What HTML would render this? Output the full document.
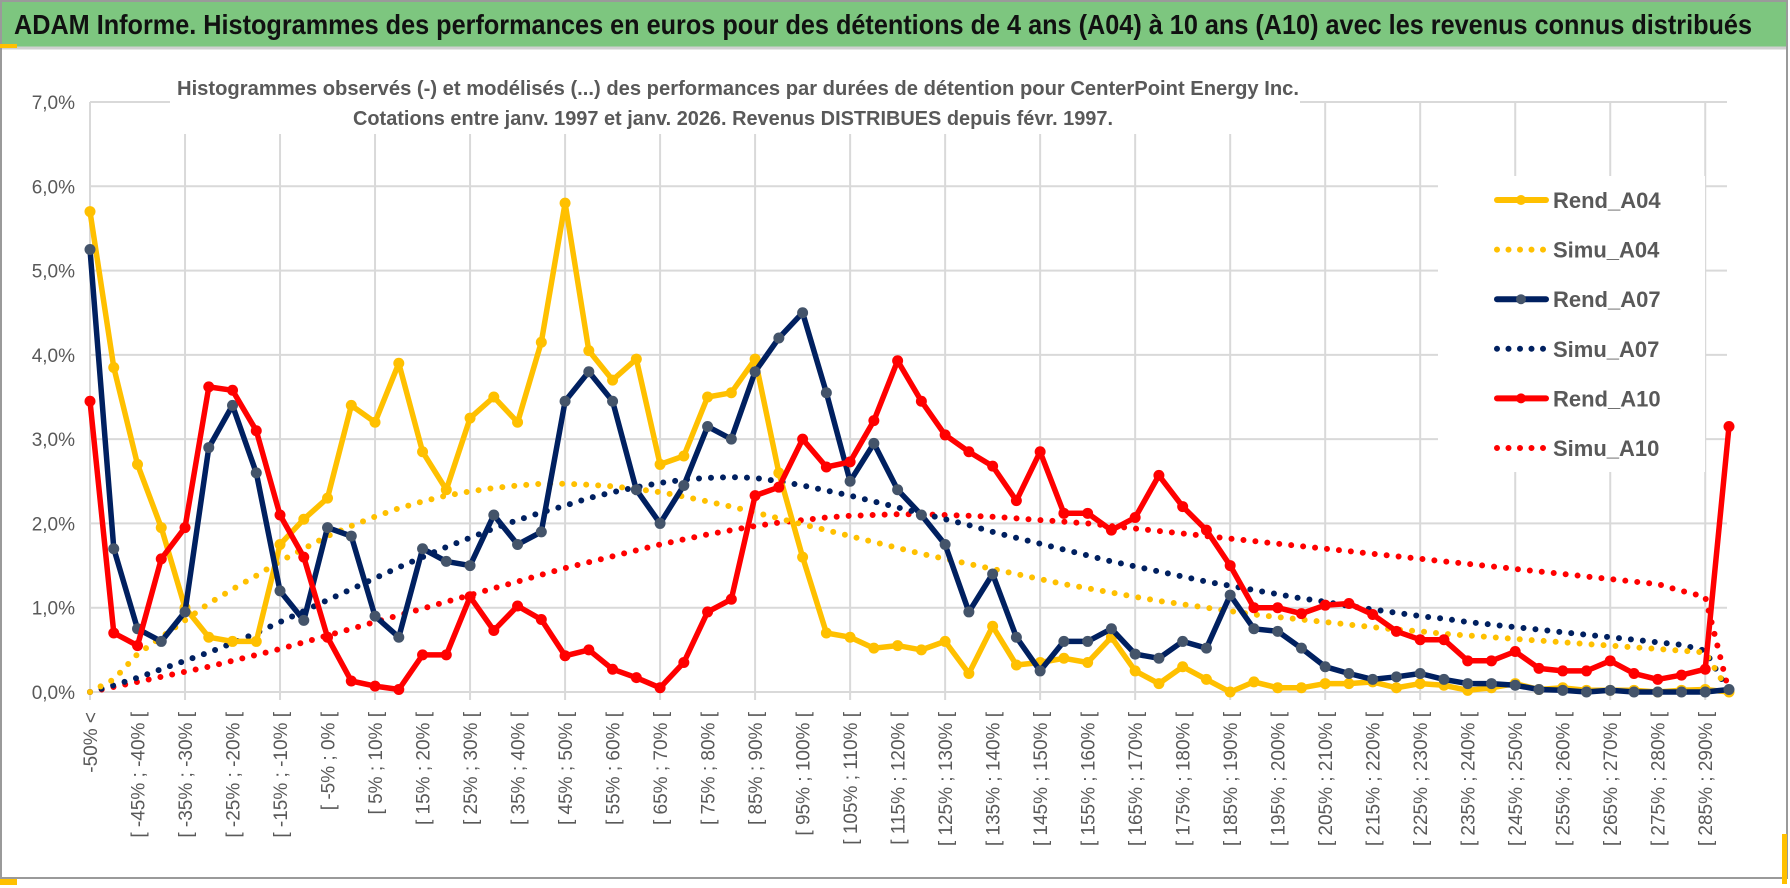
<!DOCTYPE html>
<html><head><meta charset="utf-8">
<style>
html,body{margin:0;padding:0;background:#fff;}
body{width:1790px;height:888px;overflow:hidden;position:relative;font-family:"Liberation Sans",sans-serif;}
svg{position:absolute;left:0;top:0;}
</style></head>
<body>
<svg id="chart" width="1790" height="888" viewBox="0 0 1790 888">
  <rect x="0" y="0" width="1790" height="888" fill="#ffffff"/>
  <rect x="1" y="1" width="1786" height="877" fill="none" stroke="#9a9a9a" stroke-width="2"/>
  <rect x="2" y="2" width="1784" height="45" fill="#7dc67f"/>
  <line x1="2" y1="48" x2="1786" y2="48" stroke="#d0d0d0" stroke-width="3"/>
  <rect x="0" y="44" width="17" height="4" fill="#ffc000"/>
  <text x="14" y="34" font-size="28" font-weight="bold" fill="#111" textLength="1738" lengthAdjust="spacingAndGlyphs">ADAM Informe. Histogrammes des performances en euros pour des détentions de 4 ans (A04) à 10 ans (A10) avec les revenus connus distribués</text>
  <g id="grid"></g>
  <rect x="170" y="62" width="1130" height="72" fill="#fff"/>
  <text x="738" y="95" font-size="20" font-weight="bold" fill="#595959" text-anchor="middle" textLength="1122" lengthAdjust="spacingAndGlyphs">Histogrammes observés (-) et modélisés (...) des performances par durées de détention pour CenterPoint Energy Inc.</text>
  <text x="733" y="125" font-size="20" font-weight="bold" fill="#595959" text-anchor="middle" textLength="760" lengthAdjust="spacingAndGlyphs">Cotations entre janv. 1997 et janv. 2026. Revenus DISTRIBUES depuis févr. 1997.</text>
  <g id="yticks"></g>
  <g id="xticks"></g>
  <g id="series"></g>
  <g id="legend"></g>
  <rect x="0" y="879" width="17" height="6" fill="#ffc000"/>
  <rect x="1782" y="834" width="5" height="50" fill="#ffc000"/>
</svg>
<script>
const yTicks = [0,1,2,3,4,5,6,7];
const rendA04 = [5.7,3.85,2.7,1.95,1.0,0.65,0.6,0.6,1.75,2.05,2.3,3.4,3.2,3.9,2.85,2.4,3.25,3.5,3.2,4.15,5.8,4.05,3.7,3.95,2.7,2.8,3.5,3.55,3.95,2.6,1.6,0.7,0.65,0.52,0.55,0.5,0.6,0.22,0.78,0.32,0.35,0.4,0.35,0.65,0.25,0.1,0.3,0.15,0.0,0.12,0.05,0.05,0.1,0.1,0.12,0.05,0.1,0.08,0.02,0.05,0.1,0.03,0.05,0.02,0.02,0.02,0.0,0.02,0.03,0.0];
const rendA07 = [5.25,1.7,0.75,0.6,0.95,2.9,3.4,2.6,1.2,0.85,1.95,1.85,0.9,0.65,1.7,1.55,1.5,2.1,1.75,1.9,3.45,3.8,3.45,2.4,2.0,2.45,3.15,3.0,3.8,4.2,4.5,3.55,2.5,2.95,2.4,2.1,1.75,0.95,1.4,0.65,0.25,0.6,0.6,0.75,0.45,0.4,0.6,0.52,1.15,0.75,0.72,0.52,0.3,0.22,0.15,0.18,0.22,0.15,0.1,0.1,0.08,0.03,0.02,0.0,0.02,0.0,0.0,0.0,0.0,0.03];
const rendA10 = [3.45,0.7,0.55,1.58,1.95,3.62,3.58,3.1,2.1,1.6,0.65,0.13,0.07,0.03,0.44,0.44,1.13,0.73,1.02,0.86,0.43,0.5,0.27,0.17,0.05,0.35,0.95,1.1,2.33,2.43,3.0,2.67,2.73,3.22,3.93,3.45,3.05,2.85,2.68,2.27,2.85,2.12,2.12,1.92,2.07,2.57,2.2,1.92,1.5,1.0,1.0,0.93,1.03,1.05,0.92,0.72,0.62,0.62,0.37,0.37,0.48,0.28,0.25,0.25,0.37,0.22,0.15,0.2,0.27,3.15];
const simuA04 = [0,0.15,0.45,0.65,0.85,1.05,1.22,1.38,1.55,1.7,1.85,1.97,2.08,2.18,2.26,2.33,2.38,2.42,2.45,2.47,2.47,2.46,2.44,2.41,2.37,2.32,2.26,2.2,2.13,2.06,1.99,1.92,1.85,1.78,1.71,1.64,1.58,1.52,1.46,1.4,1.34,1.28,1.23,1.18,1.13,1.08,1.04,1.0,0.96,0.92,0.89,0.86,0.83,0.8,0.77,0.74,0.72,0.69,0.67,0.65,0.63,0.61,0.59,0.57,0.55,0.53,0.51,0.49,0.47,0.0];
const simuA07 = [0,0.08,0.17,0.27,0.37,0.47,0.58,0.7,0.83,0.96,1.09,1.22,1.35,1.48,1.6,1.72,1.83,1.94,2.04,2.13,2.21,2.3,2.37,2.43,2.48,2.52,2.54,2.55,2.54,2.5,2.45,2.39,2.33,2.26,2.19,2.12,2.05,1.98,1.9,1.83,1.76,1.69,1.62,1.55,1.49,1.43,1.37,1.31,1.26,1.21,1.16,1.11,1.07,1.02,0.98,0.94,0.9,0.87,0.83,0.8,0.77,0.74,0.71,0.68,0.65,0.62,0.59,0.56,0.49,0.0];
const simuA10 = [0,0.06,0.12,0.18,0.24,0.3,0.37,0.44,0.51,0.59,0.67,0.75,0.83,0.91,0.99,1.07,1.15,1.23,1.31,1.39,1.47,1.54,1.61,1.68,1.75,1.81,1.87,1.92,1.97,2.01,2.04,2.07,2.09,2.1,2.11,2.11,2.1,2.09,2.08,2.06,2.04,2.02,2.0,1.97,1.94,1.91,1.88,1.85,1.82,1.79,1.76,1.73,1.7,1.67,1.64,1.61,1.58,1.55,1.52,1.49,1.46,1.43,1.4,1.37,1.34,1.31,1.28,1.2,1.13,0.0];
const categoryCount = 70;
const legendNames = ["Rend_A04","Simu_A04","Rend_A07","Simu_A07","Rend_A10","Simu_A10"];

const NS = "http://www.w3.org/2000/svg";
const X0 = 90, X1 = 1729, Y0 = 692, Y7 = 102;
function xPos(i){ return X0 + i*(X1-X0)/(categoryCount-1); }
function yPos(v){ return Y0 - v*(Y0-Y7)/7; }
function mk(tag, attrs, parent){ const e=document.createElementNS(NS,tag); for(const k in attrs) e.setAttribute(k,attrs[k]); parent.appendChild(e); return e; }
function catLabel(i){ if(i===0) return "-50% <"; const lo=5*i-55; return "[ "+lo+"% ; "+(lo+5)+"% ["; }

const grid = document.getElementById('grid');
yTicks.forEach(t=>{
  const l = mk('line',{x1:X0,x2:1727,y1:yPos(t),y2:yPos(t),stroke:'#d9d9d9','stroke-width':2},grid);
  
  
});
for(let i=0;i<categoryCount;i+=4){
  const l = mk('line',{x1:xPos(i),x2:xPos(i),y1:Y7,y2:Y0+8,stroke:'#d9d9d9','stroke-width':2},grid);
  
  
}

const yt = document.getElementById('yticks');
yTicks.forEach(t=>{
  const tx = mk('text',{x:75,y:yPos(t)+7,'font-size':19,fill:'#595959','text-anchor':'end'},yt);
  tx.textContent = t.toFixed(1).replace('.',',')+'%';
  
  
});

const xt = document.getElementById('xticks');
for(let i=0;i<categoryCount-1;i+=2){
  const x = xPos(i)+7, y = 712;
  const tx = mk('text',{x:x,y:y,'font-size':19,fill:'#595959','text-anchor':'end',transform:'rotate(-90 '+x+' '+y+')'},xt);
  tx.textContent = catLabel(i);
  
  
}

const sg = document.getElementById('series');
function pathOf(arr){ return arr.map((v,i)=>(i?'L':'M')+xPos(i).toFixed(1)+' '+yPos(v).toFixed(1)).join(' '); }
function dotted(arr,color,name){
  const p = mk('path',{d:pathOf(arr),fill:'none',stroke:color,'stroke-width':6,'stroke-linecap':'round','stroke-dasharray':'0 12'},sg);
  
  
}
function solid(arr,color,mcolor,name){
  const g = mk('g',{},sg);
  
  
  const p = mk('path',{d:pathOf(arr),fill:'none',stroke:color,'stroke-width':5.5,'stroke-linejoin':'round'},g);
  
  
  arr.forEach((v,i)=>{
    const c = mk('circle',{cx:xPos(i),cy:yPos(v),r:5.5,fill:mcolor},g);
    
    
  });
}
dotted(simuA10,'#ff0000','simu-a10-series');
dotted(simuA07,'#002060','simu-a07-series');
dotted(simuA04,'#ffc000','simu-a04-series');
solid(rendA04,'#ffc000','#ffc000','rend-a04-series');
solid(rendA07,'#002060','#44546a','rend-a07-series');
solid(rendA10,'#ff0000','#ff0000','rend-a10-series');

const lg = document.getElementById('legend');
const bg = mk('rect',{x:1438,y:176,width:267,height:296,fill:'#ffffff'},lg);


const legColors = ['#ffc000','#ffc000','#002060','#002060','#ff0000','#ff0000'];
const legMarker = ['#ffc000',null,'#44546a',null,'#ff0000',null];
legendNames.forEach((n,k)=>{
  const y = 200 + k*49.6;
  const g = mk('g',{},lg);
  
  
  if(legMarker[k]){
    mk('line',{x1:1497,x2:1546,y1:y,y2:y,stroke:legColors[k],'stroke-width':6,'stroke-linecap':'round'},g);
    mk('circle',{cx:1521,cy:y,r:5,fill:legMarker[k]},g);
  } else {
    mk('line',{x1:1497,x2:1546,y1:y,y2:y,stroke:legColors[k],'stroke-width':6,'stroke-linecap':'round','stroke-dasharray':'0 11.5'},g);
  }
  const t = mk('text',{x:1553,y:y+8,'font-size':22,'font-weight':'bold',fill:'#595959'},g);
  t.textContent = n;
});
</script>
</body></html>
